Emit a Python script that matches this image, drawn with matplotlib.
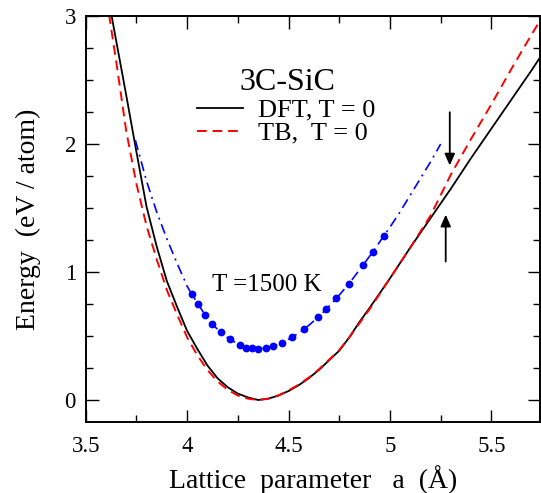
import matplotlib
matplotlib.use("Agg")
import matplotlib.pyplot as plt
from matplotlib.ticker import MultipleLocator, FormatStrFormatter

plt.rcParams['font.family'] = ['Liberation Serif', 'DejaVu Serif']
plt.rcParams['mathtext.fontset'] = 'stix'

# DFT, T = 0 (black solid)
a_dft = [3.60, 3.65, 3.70, 3.75, 3.80, 3.85, 3.90, 3.95, 4.00, 4.05, 4.10, 4.15,
         4.20, 4.25, 4.30, 4.35, 4.40, 4.45, 4.50, 4.55, 4.60, 4.65, 4.70, 4.75,
         4.80, 4.85, 4.90, 4.95, 5.00, 5.10, 5.20, 5.30, 5.40, 5.50, 5.60, 5.70, 5.75]
e_dft = [3.24, 2.81, 2.38, 1.94, 1.51, 1.20, 0.93, 0.73, 0.54, 0.40, 0.27, 0.17,
         0.10, 0.05, 0.02, 0.00, 0.01, 0.035, 0.07, 0.115, 0.17, 0.235, 0.31, 0.385,
         0.49, 0.61, 0.72, 0.835, 0.95, 1.19, 1.42, 1.65, 1.89, 2.12, 2.35, 2.58, 2.70]

# TB, T = 0 (red dashed)
a_tb = [3.60, 3.65, 3.70, 3.75, 3.80, 3.85, 3.90, 3.95, 4.00, 4.05, 4.10, 4.15,
        4.20, 4.25, 4.30, 4.35, 4.40, 4.45, 4.50, 4.55, 4.60, 4.65, 4.70, 4.75,
        4.80, 4.85, 4.90, 4.95, 5.00, 5.10, 5.20, 5.30, 5.40, 5.50, 5.60, 5.70, 5.75]
e_tb = [3.17, 2.65, 2.10, 1.69, 1.36, 1.10, 0.86, 0.67, 0.49, 0.35, 0.235, 0.145,
        0.08, 0.035, 0.01, 0.00, 0.01, 0.035, 0.075, 0.12, 0.175, 0.24, 0.315, 0.39,
        0.49, 0.60, 0.71, 0.83, 0.95, 1.19, 1.44, 1.76, 2.04, 2.31, 2.59, 2.86, 2.99]

# T = 1500 K (blue points)
a_hot = [4.022, 4.055, 4.088, 4.124, 4.165, 4.211, 4.260, 4.288, 4.318, 4.350, 4.387,
         4.424, 4.469, 4.518, 4.577, 4.646, 4.687, 4.736, 4.797, 4.868, 4.917, 4.969]
e_hot = [0.828, 0.750, 0.664, 0.591, 0.531, 0.474, 0.430, 0.410, 0.404, 0.400, 0.406,
         0.420, 0.448, 0.490, 0.552, 0.646, 0.711, 0.794, 0.906, 1.055, 1.160, 1.280]

# T = 1500 K fit (blue dash-dot), ends outside the points
a_fit_lo = [3.745, 3.80, 3.85, 3.90, 3.95, 4.00]
e_fit_lo = [2.03, 1.71, 1.47, 1.26, 1.07, 0.89]
a_fit_hi = [5.00, 5.05, 5.10, 5.15, 5.20, 5.25]
e_fit_hi = [1.35, 1.47, 1.60, 1.73, 1.86, 2.00]

fig = plt.figure(figsize=(5.41, 4.93), dpi=100)
ax = fig.add_axes([0.1584, 0.144, 0.8398, 0.8235])

l_dft, = ax.plot(a_dft, e_dft, color='black', lw=1.3, label='DFT, T = 0')
l_tb, = ax.plot(a_tb, e_tb, color='#ff0000', lw=1.4, ls=(0, (5, 3)), label='TB,  T = 0')
ax.plot(a_fit_lo + a_hot + a_fit_hi, e_fit_lo + e_hot + e_fit_hi,
        color='#0000ff', lw=1.2, ls=(0, (6, 3, 1.2, 3)))
ax.plot(a_hot, e_hot, 'o', color='#0000ff', ms=5.6, mec='none')

ax.annotate('', xy=(5.295, 1.81), xytext=(5.295, 2.27),
            arrowprops=dict(arrowstyle='-|>,head_length=0.5,head_width=0.22',
                            color='black', lw=1.3, mutation_scale=14))
ax.annotate('', xy=(5.275, 1.47), xytext=(5.275, 1.06),
            arrowprops=dict(arrowstyle='-|>,head_length=0.5,head_width=0.22',
                            color='black', lw=1.3, mutation_scale=14))

ax.text(0.445, 0.836, '3C-SiC', transform=ax.transAxes, ha='center', va='center', fontsize=23)
ax.text(0.399, 0.338, 'T =1500 K', transform=ax.transAxes, ha='center', va='center', fontsize=18)

ax.legend(handles=[l_dft, l_tb], loc='upper left', bbox_to_anchor=(0.245, 0.797),
          frameon=False, fontsize=19, handlelength=1.75, handletextpad=0.55,
          labelspacing=-0.02, borderpad=0, borderaxespad=0)

ax.set_xlim(3.5, 5.74)
ax.set_ylim(-0.172, 3.0)
ax.xaxis.set_major_locator(MultipleLocator(0.5))
ax.xaxis.set_minor_locator(MultipleLocator(0.25))
ax.yaxis.set_major_locator(MultipleLocator(1))
ax.yaxis.set_minor_locator(MultipleLocator(0.25))
ax.xaxis.set_major_formatter(FormatStrFormatter('%g'))
ax.yaxis.set_major_formatter(FormatStrFormatter('%g'))
ax.tick_params(which='both', direction='in', top=True, right=True, width=1.0, labelsize=16.5)
ax.tick_params(which='major', length=9)
ax.tick_params(which='minor', length=5)
ax.tick_params(axis='x', which='major', pad=10)
ax.tick_params(axis='y', which='major', pad=7)
for s in ax.spines.values():
    s.set_linewidth(1.4)

ax.set_xlabel('Lattice  parameter   a  (Å)', fontsize=20, labelpad=6)
ax.set_ylabel('Energy  (eV / atom)', fontsize=20, labelpad=17)

fig.savefig('out.png', dpi=100)
